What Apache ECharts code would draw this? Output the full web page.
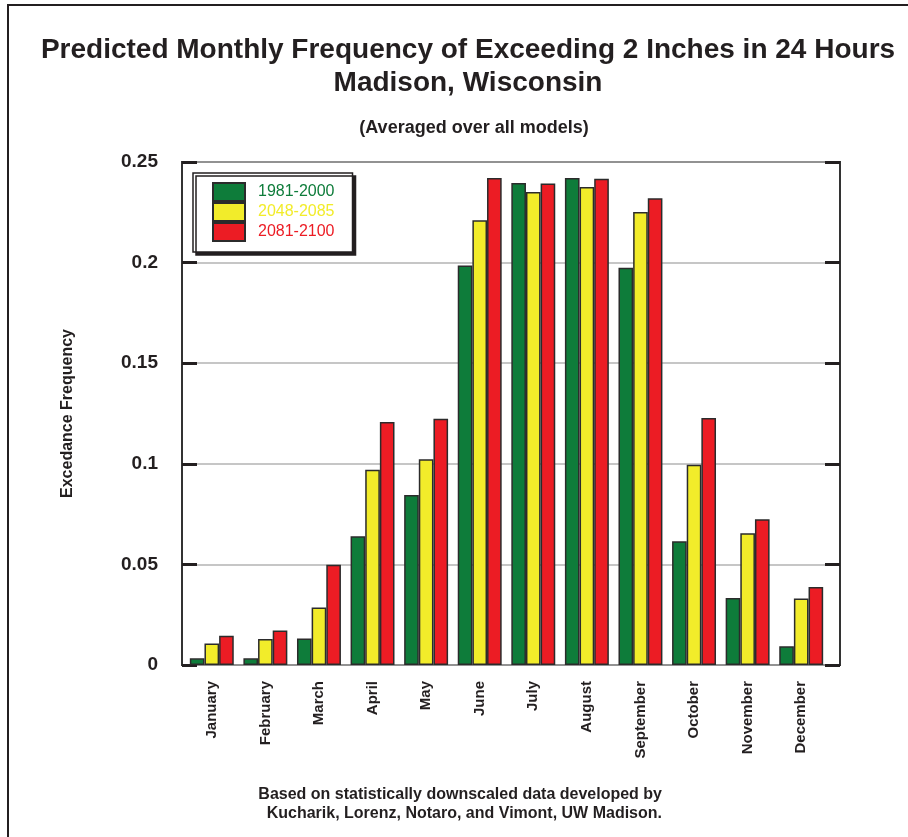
<!DOCTYPE html>
<html>
<head>
<meta charset="utf-8">
<script src="https://cdn.jsdelivr.net/npm/echarts@6/dist/echarts.min.js"></script>
<style>
html,body{margin:0;padding:0;background:#fff;}
#chart{width:908px;height:837px;}
</style>
</head>
<body>
<div id="chart"></div>
<script>
const months = ['January','February','March','April','May','June','July','August','September','October','November','December'];
const seriesNames = ['1981-2000','2048-2085','2081-2100'];
const base1981 = [0.0033,0.0033,0.0132,0.0640,0.0845,0.1985,0.2396,0.2421,0.1975,0.0615,0.0333,0.0093];
const mid2048 = [0.0107,0.0129,0.0286,0.0970,0.1023,0.2211,0.2351,0.2376,0.2251,0.0995,0.0655,0.0330];
const late2081 = [0.0145,0.0172,0.0498,0.1208,0.1224,0.2421,0.2393,0.2417,0.2320,0.1228,0.0724,0.0388];
const yTicks = [0,0.05,0.1,0.15,0.2,0.25];

const colors = ['#0e7c3a','#f2ec2a','#ec1c24'];
const F = "'Liberation Sans',Arial,sans-serif";

const chart = echarts.init(document.getElementById('chart'));
const values = [base1981, mid2048, late2081];

const option = {
  backgroundColor:'#fff',
  animation:false,
  title:[
    {text:'Predicted Monthly Frequency of Exceeding 2 Inches in 24 Hours\nMadison, Wisconsin', left:463, top:29, textAlign:'center',
      textStyle:{fontFamily:F, fontSize:28, fontWeight:'bold', color:'#231f20', lineHeight:33}},
    {text:'(Averaged over all models)', left:469, top:114, textAlign:'center',
      textStyle:{fontFamily:F, fontSize:18, fontWeight:'bold', color:'#231f20'}},
    {text:'Based on statistically downscaled data developed by', right:241, top:782,
      textStyle:{fontFamily:F, fontSize:16, fontWeight:'bold', color:'#231f20'}},
    {text:'Kucharik, Lorenz, Notaro, and Vimont, UW Madison.', right:241, top:801,
      textStyle:{fontFamily:F, fontSize:16, fontWeight:'bold', color:'#231f20'}}
  ],
  legend:{
    orient:'vertical', left:193, top:173, itemGap:0, itemWidth:32, itemHeight:18, icon:'rect',
    padding:[9,18,10,19], backgroundColor:'#fff', borderColor:'#231f20', borderWidth:1.5,
    shadowColor:'#231f20', shadowBlur:0, shadowOffsetX:3, shadowOffsetY:3,
    data: seriesNames.map((n,i)=>({name:n, textStyle:{color:colors[i]}})),
    textStyle:{fontFamily:F, fontSize:16, lineHeight:18, padding:[0,0,0,8]},
    selectedMode:false
  },
  grid:[
    {left:182, right:68, top:162, bottom:172, show:true, borderColor:'#333', borderWidth:2, backgroundColor:'transparent'},
    {left:185, right:80, top:162, bottom:172}
  ],
  xAxis:[
    {type:'value', gridIndex:0, min:0, max:1, show:false},
    {type:'category', gridIndex:1, data:months, axisLine:{show:false}, axisTick:{show:false},
      axisLabel:{interval:0, rotate:90, margin:16, fontFamily:F, fontSize:15, fontWeight:'bold', color:'#231f20'}}
  ],
  yAxis:[
    {type:'value', gridIndex:0, min:0, max:0.25, interval:0.05,
      name:'Excedance Frequency', nameLocation:'middle', nameRotate:90, nameGap:106,
      nameTextStyle:{fontFamily:F, fontSize:16, fontWeight:'bold', color:'#231f20'},
      axisLine:{show:true, lineStyle:{color:'#333', width:2}},
      axisTick:{show:true, inside:true, length:15, lineStyle:{color:'#231f20', width:3}},
      axisLabel:{margin:24, fontFamily:F, fontSize:19, fontWeight:'bold', color:'#231f20',
        formatter:v=>{const t=yTicks.find(x=>Math.abs(x-v)<1e-9); return t===undefined?'':String(t);}},
      splitLine:{show:true, lineStyle:{color:'#b3b3b3', width:1.5}}},
    {type:'value', gridIndex:0, position:'right', min:0, max:0.25, interval:0.05,
      axisLine:{show:true, lineStyle:{color:'#333', width:2}},
      axisTick:{show:true, inside:true, length:15, lineStyle:{color:'#231f20', width:3}},
      axisLabel:{show:false}, splitLine:{show:false}},
    {type:'value', gridIndex:1, min:0, max:0.25, show:false}
  ],
  series: seriesNames.map((n,i)=>({
    name:n, type:'bar', xAxisIndex:1, yAxisIndex:2, data:values[i],
    barGap:'0%', barCategoryGap:'18%',
    itemStyle:{color:colors[i], borderColor:'#2b2b2b', borderWidth:1.5}
  })),
  graphic:[
    {type:'polyline', shape:{points:[[8,837],[8,5],[908,5]]}, style:{stroke:'#231f20', lineWidth:2, fill:null}}
  ]
};
chart.setOption(option);
</script>
</body>
</html>
